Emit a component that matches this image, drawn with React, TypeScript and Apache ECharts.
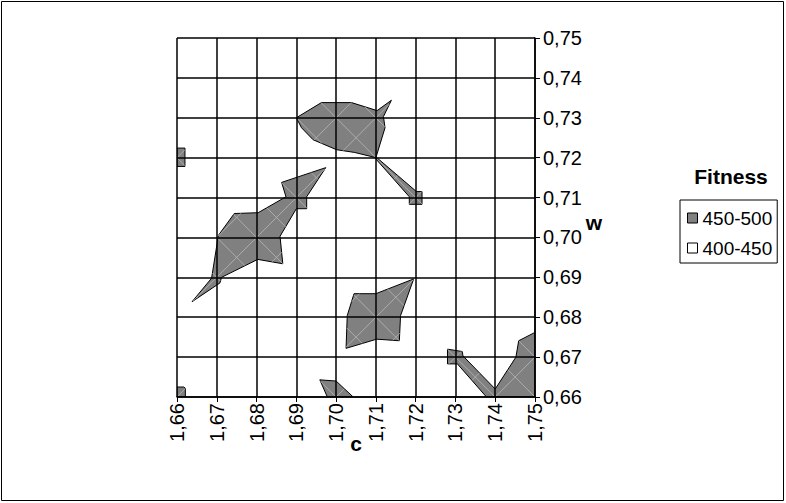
import React, { useEffect, useRef } from "react";
import * as echarts from "echarts";

// ---- axis ticks ----
const C_TICKS = [1.66, 1.67, 1.68, 1.69, 1.7, 1.71, 1.72, 1.73, 1.74, 1.75];
const W_TICKS = [0.66, 0.67, 0.68, 0.69, 0.7, 0.71, 0.72, 0.73, 0.74, 0.75];
const X_NAME = "c";
const Y_NAME = "w";
const LEGEND_TITLE = "Fitness";
const LEGEND_ITEMS = ["450-500", "400-450"];

// ---- contour regions of band 450-500, vertices as [c, w] ----
const REGION_TOP = [
  [1.69, 0.73], [1.6963, 0.7338], [1.7039, 0.7338], [1.7103, 0.7318], [1.7139, 0.7344],
  [1.7119, 0.7303], [1.7123, 0.7275], [1.71, 0.72], [1.7047, 0.7213], [1.7001, 0.722],
  [1.6942, 0.7245], [1.6913, 0.7275],
];
const REGION_WEDGE = [
  [1.71, 0.7202], [1.7202, 0.7115], [1.7216, 0.7115], [1.7216, 0.7083],
  [1.7184, 0.7083], [1.7184, 0.7102], [1.7098, 0.7199],
];
const REGION_LEFT_SQUARE = [[1.66, 0.7178], [1.662, 0.7178], [1.662, 0.7224], [1.66, 0.7224]];
const REGION_CORNER = [[1.66, 0.66], [1.6621, 0.66], [1.6621, 0.6622], [1.6617, 0.6625], [1.66, 0.6625]];
const REGION_DIAG = [
  [1.6974, 0.7175], [1.6926, 0.7102], [1.6926, 0.7072], [1.69, 0.7072], [1.6859, 0.7003],
  [1.6866, 0.6934], [1.6803, 0.6945], [1.6712, 0.69], [1.6708, 0.6886], [1.6638, 0.6839],
  [1.6687, 0.6898], [1.6704, 0.7005], [1.6744, 0.706], [1.6804, 0.7062], [1.6874, 0.7102],
  [1.6863, 0.7138],
];
const REGION_MID = [
  [1.7195, 0.6896], [1.7162, 0.6804], [1.7159, 0.6741], [1.7102, 0.6745], [1.7025, 0.6722],
  [1.7028, 0.6804], [1.7045, 0.6859], [1.71, 0.6859],
];
const REGION_BOTTOM = [[1.6959, 0.6643], [1.7, 0.664], [1.7043, 0.66], [1.6978, 0.66]];
const REGION_RIGHT = [
  [1.728, 0.672], [1.7317, 0.6714], [1.7319, 0.6703], [1.74, 0.662], [1.7452, 0.67],
  [1.7459, 0.6741], [1.75, 0.6762], [1.75, 0.66], [1.7378, 0.66], [1.7305, 0.6683], [1.728, 0.6683],
];
const REGIONS_450_500 = [
  REGION_TOP, REGION_WEDGE, REGION_LEFT_SQUARE, REGION_CORNER,
  REGION_DIAG, REGION_MID, REGION_BOTTOM, REGION_RIGHT,
];

const FONT = "'Liberation Sans', Arial, sans-serif";
const fmt = (v: number) => v.toFixed(2).replace(".", ",");

const C_MIN = C_TICKS[0];
const C_MAX = C_TICKS[C_TICKS.length - 1];
const C_STEP = +(C_TICKS[1] - C_TICKS[0]).toFixed(4);
const W_MIN = W_TICKS[0];
const W_MAX = W_TICKS[W_TICKS.length - 1];
const W_STEP = +(W_TICKS[1] - W_TICKS[0]).toFixed(4);

// cell diagonals clipped to a polygon (in grid-cell units)
function diagonals(poly: number[][]) {
  const g = poly.map((p) => [(p[0] - C_MIN) / C_STEP, (p[1] - W_MIN) / W_STEP]);
  const segs: number[][][] = [];
  for (const sgn of [1, -1]) {
    const f = (q: number[]) => q[0] - sgn * q[1];
    const vals = g.map(f);
    const lo = Math.ceil(Math.min(...vals) + 1e-6);
    const hi = Math.floor(Math.max(...vals) - 1e-6);
    for (let k = lo; k <= hi; k++) {
      const pts: number[][] = [];
      for (let i = 0; i < g.length; i++) {
        const a = g[i];
        const b = g[(i + 1) % g.length];
        const fa = f(a) - k;
        const fb = f(b) - k;
        if ((fa < 0) !== (fb < 0)) {
          const t = fa / (fa - fb);
          pts.push([a[0] + t * (b[0] - a[0]), a[1] + t * (b[1] - a[1])]);
        }
      }
      pts.sort((p, q) => p[0] - q[0]);
      for (let i = 0; i + 1 < pts.length; i += 2) {
        segs.push([
          [C_MIN + pts[i][0] * C_STEP, W_MIN + pts[i][1] * W_STEP],
          [C_MIN + pts[i + 1][0] * C_STEP, W_MIN + pts[i + 1][1] * W_STEP],
        ]);
      }
    }
  }
  return segs;
}

export default function App() {
  const ref = useRef<HTMLDivElement>(null);
  useEffect(() => {
    if (!ref.current) return;
    const chart = echarts.init(ref.current, undefined, { renderer: "svg" });
    chart.setOption({
      animation: false,
      backgroundColor: "#ffffff",
      textStyle: { fontFamily: FONT },
      grid: { left: 177, top: 38, width: 358, height: 359 },
      xAxis: {
        type: "value",
        min: C_MIN,
        max: C_MAX,
        interval: C_STEP,
        z: 10,
        axisLine: { show: true, lineStyle: { color: "#000", width: 1.5 } },
        axisTick: { show: true, length: 5, lineStyle: { color: "#000", width: 1 } },
        splitLine: { show: true, lineStyle: { color: "#000", width: 1.5 } },
        axisLabel: {
          rotate: 90,
          margin: 6,
          fontSize: 20,
          color: "#000",
          fontFamily: FONT,
          formatter: (v: number) => fmt(v),
          showMinLabel: true,
          showMaxLabel: true,
        },
      },
      yAxis: {
        type: "value",
        position: "right",
        min: W_MIN,
        max: W_MAX,
        interval: W_STEP,
        z: 10,
        axisLine: { show: true, lineStyle: { color: "#000", width: 1.5 } },
        axisTick: { show: true, length: 5, lineStyle: { color: "#000", width: 1 } },
        splitLine: { show: true, lineStyle: { color: "#000", width: 1.5 } },
        axisLabel: {
          margin: 8,
          fontSize: 20,
          color: "#000",
          fontFamily: FONT,
          formatter: (v: number) => fmt(v),
          showMinLabel: true,
          showMaxLabel: true,
        },
      },
      legend: {
        data: LEGEND_ITEMS.map((name) => ({ name, icon: "rect" })),
        orient: "vertical",
        left: 680,
        top: 200,
        itemWidth: 10,
        itemHeight: 10,
        itemGap: 10,
        padding: [8, 5, 5, 7],
        borderColor: "#000",
        borderWidth: 1,
        backgroundColor: "#fff",
        selectedMode: false,
        itemStyle: { borderColor: "#000", borderWidth: 1 },
        textStyle: { fontSize: 19, color: "#000", fontFamily: FONT, lineHeight: 20 },
      },
      graphic: [
        {
          type: "rect",
          shape: { x: 1.5, y: 1.5, width: 782, height: 499 },
          style: { fill: "none", stroke: "#000", lineWidth: 1 },
          silent: true,
        },
        {
          type: "text",
          x: 731,
          y: 176,
          style: {
            text: LEGEND_TITLE,
            fontSize: 21,
            fontWeight: "bold",
            fontFamily: FONT,
            fill: "#000",
            align: "center",
            verticalAlign: "middle",
          },
        },
        {
          type: "text",
          x: 594,
          y: 222,
          style: {
            text: Y_NAME,
            fontSize: 21,
            fontWeight: "bold",
            fontFamily: FONT,
            fill: "#000",
            align: "center",
            verticalAlign: "middle",
          },
        },
        {
          type: "text",
          x: 356,
          y: 443,
          style: {
            text: X_NAME,
            fontSize: 21,
            fontWeight: "bold",
            fontFamily: FONT,
            fill: "#000",
            align: "center",
            verticalAlign: "middle",
          },
        },
      ],
      series: [
        {
          name: LEGEND_ITEMS[0],
          type: "custom",
          itemStyle: { color: "#808080" },
          clip: true,
          data: REGIONS_450_500.map((p, i) => [p[0][0], p[0][1], i]),
          renderItem: (params: any, api: any) => {
            const poly = REGIONS_450_500[params.dataIndex];
            const pts = poly.map((p) => api.coord(p));
            const children: any[] = [
              {
                type: "polygon",
                shape: { points: pts },
                style: { fill: "#808080", stroke: "#000", lineWidth: 1 },
              },
            ];
            for (const s of diagonals(poly)) {
              const a = api.coord(s[0]);
              const b = api.coord(s[1]);
              children.push({
                type: "line",
                shape: { x1: a[0], y1: a[1], x2: b[0], y2: b[1] },
                style: { stroke: "#b8b8b8", lineWidth: 0.8 },
              });
            }
            return { type: "group", children };
          },
        },
        {
          name: LEGEND_ITEMS[1],
          type: "custom",
          itemStyle: { color: "#ffffff" },
          data: [],
          renderItem: () => null,
        },
      ],
    });
    return () => chart.dispose();
  }, []);
  return (
    <div
      ref={ref}
      style={{ position: "fixed", left: 0, top: 0, width: 786, height: 503, background: "#fff" }}
    />
  );
}
